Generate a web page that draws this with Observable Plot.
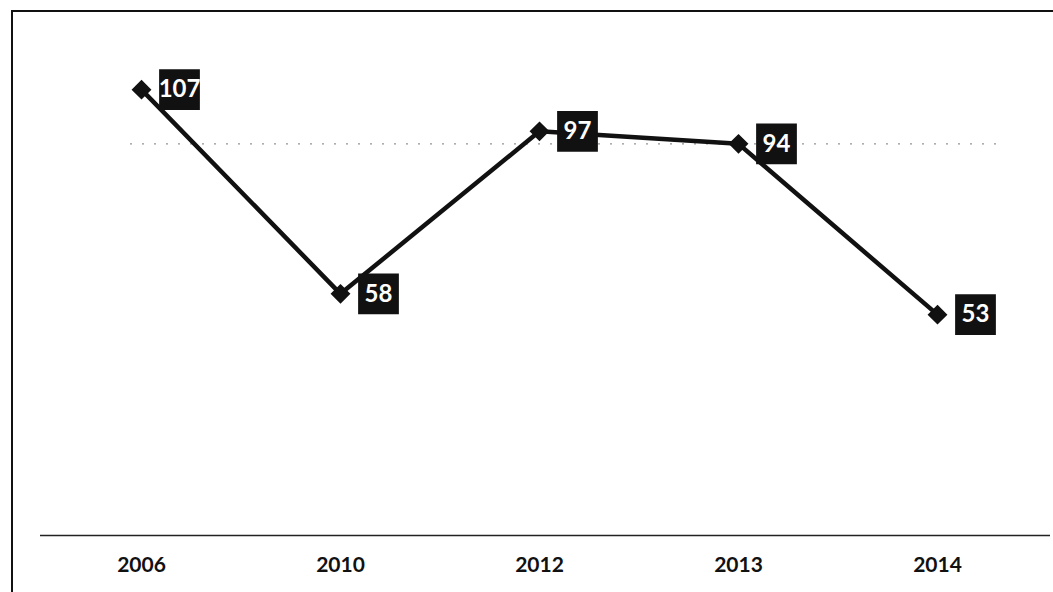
<!DOCTYPE html>
<html>
<head>
<meta charset="utf-8">
<script src="https://cdn.jsdelivr.net/npm/d3@7"></script>
<script src="https://cdn.jsdelivr.net/npm/@observablehq/plot@0.6"></script>
<style>
  html, body { margin: 0; padding: 0; background: #fff; }
  #wrap { position: relative; width: 1053px; height: 592px; overflow: hidden; }
  #border { position: absolute; left: 11px; top: 10px; width: 1060px; height: 600px;
            border-left: 2px solid #111; border-top: 2px solid #111; pointer-events: none; }
  svg { font-family: Lato, "Open Sans", sans-serif; }
</style>
</head>
<body>
<div id="wrap"><div id="border"></div></div>
<script>
const years = ["2006", "2010", "2012", "2013", "2014"];
const values = [107, 58, 97, 94, 53];
const gridValues = [94];

const data = years.map((y, i) => ({year: y, value: values[i]}));

const chart = Plot.plot({
  width: 1053,
  height: 592,
  marginLeft: 40,
  marginRight: 3,
  marginTop: 35,
  marginBottom: 57,
  style: {background: "transparent", fontFamily: "Lato, 'Open Sans', sans-serif"},
  x: {type: "point", domain: years, padding: 0.5, insetRight: 12, label: null},
  y: {domain: [0, 120], axis: null},
  marks: [
    Plot.ruleY(gridValues, {y: d => d, insetLeft: 90, insetRight: 50, stroke: "#888", strokeWidth: 1.3, strokeDasharray: "2,10", strokeOpacity: 0.9}),
    Plot.ruleY([0], {stroke: "#222", strokeWidth: 1.5}),
    Plot.axisX({tickSize: 0, tickPadding: 22, fontSize: 21, fontWeight: "bold", fill: "#111", label: null}),
    Plot.line(data, {x: "year", y: "value", stroke: "#111", strokeWidth: 4.5}),
    Plot.dot(data, {x: "year", y: "value", symbol: "diamond2", r: 8, fill: "#111", stroke: "#111"}),
    Plot.dot(data, {x: "year", y: "value", symbol: "square", r: 23, fill: "#111", dx: 38}),
    Plot.text(data, {x: "year", y: "value", text: d => String(d.value), dx: 38, fill: "#fff", fontSize: 24, fontWeight: "bold"})
  ]
});
document.getElementById("wrap").prepend(chart);
</script>
</body>
</html>
